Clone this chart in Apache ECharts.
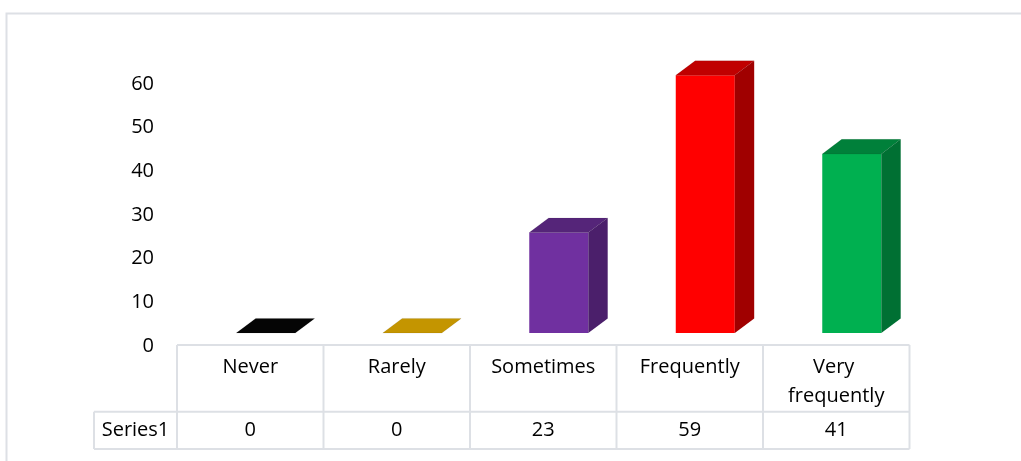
<!DOCTYPE html>
<html>
<head>
<meta charset="utf-8">
<script src="https://cdn.jsdelivr.net/npm/echarts@6/dist/echarts.min.js"></script>
<style>
html,body{margin:0;padding:0;background:#fff;}
#chart{width:1021px;height:461px;}
</style>
</head>
<body>
<div id="chart"></div>
<script>
const categories = ['Never', 'Rarely', 'Sometimes', 'Frequently', 'Very frequently'];
const seriesName = 'Series1';
const values = [0, 0, 23, 59, 41];
const yTicks = [0, 10, 20, 30, 40, 50, 60];

const frontColors = ['#050505', '#C49500', '#7030A0', '#FF0000', '#00B050'];
const topColors   = ['#050505', '#C49500', '#552579', '#C00000', '#00803A'];
const sideColors  = ['#000000', '#9A7500', '#4B1F6B', '#A00000', '#007033'];

const FONT = '"Open Sans"';
const FS = 20;
const DX = 19.4, DY = -14.6;
const LINE = '#DDE0E5';

const chart = echarts.init(document.getElementById('chart'), null, {renderer: 'canvas'});

function renderBar(params, api) {
  const i = api.value(0);
  const v = api.value(1);
  const top = api.coord([i, v]);
  const base = api.coord([i, 0]);
  const band = api.size([1, 0])[0];
  const w = band * 0.403;
  const x0 = top[0] - band * 0.0955;
  const yt = top[1], yb = base[1];
  const children = [];
  if (yb - yt > 0.5) {
    children.push({type: 'rect', shape: {x: x0, y: yt, width: w, height: yb - yt},
      style: {fill: frontColors[i]}});
    children.push({type: 'polygon', shape: {points: [[x0 + w, yt], [x0 + w + DX, yt + DY], [x0 + w + DX, yb + DY], [x0 + w, yb]]},
      style: {fill: sideColors[i]}});
  }
  children.push({type: 'polygon', shape: {points: [[x0, yt], [x0 + w, yt], [x0 + w + DX, yt + DY], [x0 + DX, yt + DY]]},
    style: {fill: topColors[i], stroke: 'rgba(0,0,0,0.15)', lineWidth: 0.5}});
  return {type: 'group', children: children};
}

const option = {
  animation: false,
  backgroundColor: '#ffffff',
  grid: [
    {left: 177, right: 111.5, top: 71, bottom: 128, containLabel: false},
    {left: 177, right: 111.5, top: 84, bottom: 115, containLabel: false}
  ],
  xAxis: [{
    type: 'category', gridIndex: 0,
    data: categories,
    axisLine: {show: false}, axisTick: {show: false},
    axisLabel: {show: false}, splitLine: {show: false}
  }, {
    type: 'category', gridIndex: 1,
    data: categories, show: false
  }],
  yAxis: [{
    type: 'value', gridIndex: 0,
    min: 0, max: 60, interval: 10,
    axisLine: {show: false}, axisTick: {show: false},
    splitLine: {show: false}, axisLabel: {show: false}
  }, {
    type: 'value', gridIndex: 1,
    min: 0, max: 60, interval: 10,
    axisLine: {show: false}, axisTick: {show: false},
    splitLine: {show: false},
    axisLabel: {
      color: '#000', fontFamily: FONT, fontSize: FS, margin: 23,
      formatter: function (val) { return yTicks.indexOf(val) >= 0 ? String(val) : ''; }
    }
  }],
  series: [{
    type: 'custom',
    name: seriesName,
    xAxisIndex: 0, yAxisIndex: 0,
    renderItem: renderBar,
    encode: {x: 0, y: 1},
    data: values.map((v, i) => [i, v])
  }]
};
chart.setOption(option);

// Data table drawn from the category axis scale
function buildTable() {
  const n = categories.length;
  const c0 = chart.convertToPixel({xAxisIndex: 0}, 0);
  const c1 = chart.convertToPixel({xAxisIndex: 0}, 1);
  const band = c1 - c0;
  const left = c0 - band / 2;
  const right = left + band * n;
  const yH = 345, yR = 411.7, yB = 449;
  const xS = 94;
  const els = [];
  els.push({type: 'rect', shape: {x: 6.5, y: 13.5, width: 1100, height: 600},
    style: {fill: 'none', stroke: LINE, lineWidth: 2}, silent: true});
  const ln = (x1, y1, x2, y2) => els.push({type: 'line', shape: {x1, y1, x2, y2},
    style: {stroke: LINE, lineWidth: 2}});
  ln(left, yH, right, yH);
  ln(xS, yR, right, yR);
  ln(xS, yB, right, yB);
  ln(xS, yR, xS, yB);
  for (let k = 0; k <= n; k++) {
    const x = left + band * k;
    ln(x, yH, x, yB);
  }
  for (let k = 0; k < n; k++) {
    const cx = chart.convertToPixel({xAxisIndex: 0}, k);
    els.push({type: 'text', x: cx, y: yH + 8, style: {
      text: categories[k], fill: '#000', font: FS + 'px ' + FONT,
      align: 'center', verticalAlign: 'top', lineHeight: 29,
      width: band - 20, overflow: 'break'}});
    els.push({type: 'text', x: cx, y: (yR + yB) / 2, style: {
      text: String(values[k]), fill: '#000', font: FS + 'px ' + FONT,
      align: 'center', verticalAlign: 'middle'}});
  }
  els.push({type: 'text', x: (xS + left) / 2, y: (yR + yB) / 2, style: {
    text: seriesName, fill: '#000', font: FS + 'px ' + FONT,
    align: 'center', verticalAlign: 'middle'}});
  chart.setOption({graphic: {elements: els}});
}
buildTable();
</script>
</body>
</html>
